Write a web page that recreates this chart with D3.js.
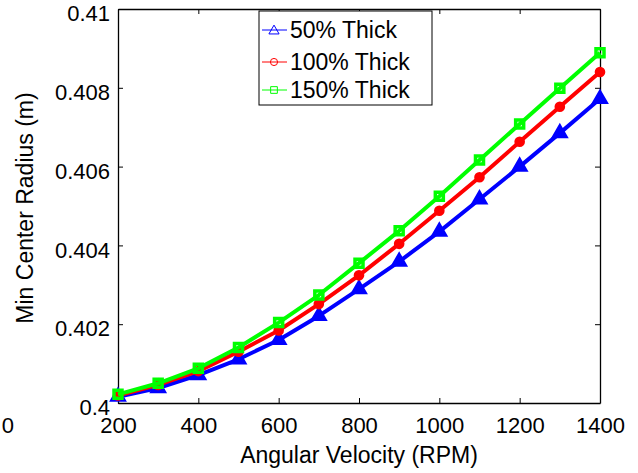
<!DOCTYPE html>
<html>
<head>
<meta charset="utf-8">
<script src="https://cdn.jsdelivr.net/npm/d3@7"></script>
<style>
  body { margin: 0; background: #fff; }
  svg text { font-family: "Liberation Sans", Arial, Helvetica, sans-serif; fill: #000; }
</style>
</head>
<body>
<div id="chart"></div>
<script>
// DATA
const rpm = [200, 300, 400, 500, 600, 700, 800, 900, 1000, 1100, 1200, 1300, 1400];
const thick50  = [0.40016, 0.40038, 0.40071, 0.40111, 0.40160, 0.40221, 0.40289, 0.40359, 0.40435, 0.40517, 0.40600, 0.40685, 0.40772];
const thick100 = [0.40019, 0.40046, 0.40081, 0.40130, 0.40184, 0.40251, 0.40324, 0.40404, 0.40488, 0.40573, 0.40663, 0.40752, 0.40840];
const thick150 = [0.40022, 0.40050, 0.40088, 0.40141, 0.40204, 0.40274, 0.40355, 0.40437, 0.40525, 0.40617, 0.40708, 0.40799, 0.40889];
const seriesNames = ["50% Thick", "100% Thick", "150% Thick"];
const xTicks = [200, 400, 600, 800, 1000, 1200, 1400];
const yTicks = [0.4, 0.402, 0.404, 0.406, 0.408, 0.41];
const yTickLabels = ["0.4", "0.402", "0.404", "0.406", "0.408", "0.41"];

// CHART AREA
let margin = {top: 9, right: 38, bottom: 70, left: 118},
    width = 638 - margin.left - margin.right,
    height = 473 - margin.top - margin.bottom;

let svgRoot = d3.select("#chart").append("svg")
    .attr("width", 638)
    .attr("height", 473);

let svg = svgRoot.append("g")
    .attr("transform", "translate(" + margin.left + "," + margin.top + ")");

// SCALES
let x = d3.scaleLinear().domain([200, 1400]).range([0, width]);
let y = d3.scaleLinear().domain([0.4, 0.41]).range([height, 0]);

// AXES (ticks point inward, matlab style box)
let xAxis = d3.axisBottom(x).tickValues(xTicks).tickSizeInner(-5).tickSizeOuter(0)
    .tickFormat(d3.format("d"));
let yAxis = d3.axisLeft(y).tickValues(yTicks).tickSizeInner(-5).tickSizeOuter(0)
    .tickFormat((d, i) => yTickLabels[i]);
let xTop = d3.axisTop(x).tickValues(xTicks).tickSizeInner(-5).tickSizeOuter(0).tickFormat("");
let yRight = d3.axisRight(y).tickValues(yTicks).tickSizeInner(-5).tickSizeOuter(0).tickFormat("");

let gx = svg.append("g").attr("class", "x-axis axis")
    .attr("transform", "translate(0," + height + ")")
    .call(xAxis);
gx.selectAll("text").attr("font-size", 22).attr("dy", "0.71em").attr("y", 14);

let gy = svg.append("g").attr("class", "y-axis axis").call(yAxis);
gy.selectAll("text").attr("font-size", 22).attr("x", -8).attr("dy", "0.35em")
    .attr("transform", "translate(0,4)");

svg.append("g").call(xTop);
svg.append("g").attr("transform", "translate(" + width + ",0)").call(yRight);

svg.selectAll(".domain").attr("stroke", "#000").attr("stroke-width", 1.3);
svg.selectAll(".tick line").attr("stroke", "#000").attr("stroke-width", 1);

// stray tick label at the left edge of the picture
svgRoot.append("text")
    .attr("x", 14).attr("y", 433)
    .attr("text-anchor", "end")
    .attr("font-size", 22)
    .text("0");

// AXIS LABELS
svgRoot.append("text")
    .attr("x", 359).attr("y", 463)
    .attr("text-anchor", "middle")
    .attr("font-size", 23)
    .text("Angular Velocity (RPM)");

svgRoot.append("text")
    .attr("transform", "translate(33,208) rotate(-90)")
    .attr("text-anchor", "middle")
    .attr("font-size", 23)
    .text("Min Center Radius (m)");

// ---- LINES + MARKERS ----
const series = [
    {name: seriesNames[0], values: thick50,  color: "#0000ff", shape: d3.symbolTriangle},
    {name: seriesNames[1], values: thick100, color: "#ff0000", shape: d3.symbolCircle},
    {name: seriesNames[2], values: thick150, color: "#00ff00", shape: d3.symbolSquare}
];

let line = d3.line()
    .x((d, i) => x(rpm[i]))
    .y(d => y(d));

series.forEach(s => {
    let g = svg.append("g");
    g.append("path")
        .datum(s.values)
        .attr("fill", "none")
        .attr("stroke", s.color)
        .attr("stroke-width", 4)
        .attr("stroke-linejoin", "round")
        .attr("d", line);

    let size = s.shape === d3.symbolTriangle ? 60 : (s.shape === d3.symbolCircle ? 40 : 64);
    g.selectAll(".pt")
        .data(s.values)
        .enter()
        .append("path")
        .attr("class", "pt")
        .attr("transform", (d, i) => "translate(" + x(rpm[i]) + "," + y(d) + ")")
        .attr("d", d3.symbol().type(s.shape).size(size))
        .attr("fill", s.shape === d3.symbolSquare ? "none" : s.color)
        .attr("stroke", s.color)
        .attr("stroke-width", 3.5);
});

// ---- LEGEND ----
let legend = svgRoot.append("g").attr("transform", "translate(259,11)");
legend.append("rect")
    .attr("width", 173).attr("height", 94)
    .attr("fill", "#fff")
    .attr("stroke", "#000")
    .attr("stroke-width", 1);

const rowY = [19, 51, 79];
series.forEach((s, i) => {
    let row = legend.append("g").attr("transform", "translate(0," + rowY[i] + ")");
    row.append("line")
        .attr("x1", 3).attr("x2", 28)
        .attr("stroke", s.color).attr("stroke-width", 1);
    row.append("path")
        .attr("transform", "translate(15," + (s.shape === d3.symbolTriangle ? 1 : 0) + ")")
        .attr("d", d3.symbol().type(s.shape).size(s.shape === d3.symbolCircle ? 40 : 45))
        .attr("fill", "none")
        .attr("stroke", s.color)
        .attr("stroke-width", 1);
    row.append("text")
        .attr("x", 31).attr("dy", "0.35em")
        .attr("font-size", 23)
        .text(s.name);
});
</script>
</body>
</html>
